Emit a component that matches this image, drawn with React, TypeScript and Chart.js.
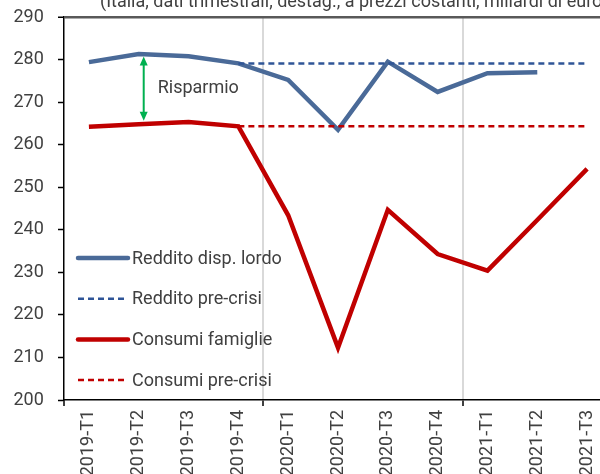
import React, { useEffect, useRef } from 'react';
import { Chart, registerables } from 'chart.js';

Chart.register(...registerables);

const categories = ['2019-T1', '2019-T2', '2019-T3', '2019-T4', '2020-T1', '2020-T2', '2020-T3', '2020-T4', '2021-T1', '2021-T2', '2021-T3'];
const redditoDisp = [279.4, 281.3, 280.8, 279.1, 275.2, 263.5, 279.5, 272.4, 276.8, 277.0, null];
const redditoPreCrisi = [null, null, null, 279.1, 279.1, 279.1, 279.1, 279.1, 279.1, 279.1, 279.1];
const consumiFamiglie = [264.2, 264.8, 265.3, 264.3, 243.4, 212.3, 244.7, 234.3, 230.4, 242.3, 254.3];
const consumiPreCrisi = [null, null, null, 264.3, 264.3, 264.3, 264.3, 264.3, 264.3, 264.3, 264.3];
const yMin = 200;
const yMax = 290;
const yStep = 10;
const yearStartIndexes = [4, 8];
const titleText = '(Italia, dati trimestrali, destag., a prezzi costanti, miliardi di euro)';
const arrowLabel = 'Risparmio';
const arrowAt = { index: 1.1, from: 280.7, to: 265.6, labelIndex: 1.38, labelValue: 273.3 };

const FONT = 'Roboto, "Noto Sans", sans-serif';
const TEXT = '#404040';
const BLUE = '#4A6A98';
const BLUE_DASH = '#2F5597';
const RED = '#C00000';
const GREEN = '#00B050';

const legendItems = [
  { label: 'Reddito disp. lordo', color: BLUE, width: 4.5, dash: [] as number[] },
  { label: 'Reddito pre-crisi', color: BLUE_DASH, width: 2.5, dash: [6, 4] },
  { label: 'Consumi famiglie', color: RED, width: 4.5, dash: [] as number[] },
  { label: 'Consumi pre-crisi', color: RED, width: 2.5, dash: [6, 4] },
];

const overlayPlugin = {
  id: 'overlay',
  afterDatasetsDraw(chart: any) {
    const { ctx, chartArea, scales } = chart;
    const x = scales.x;
    const y = scales.y;
    ctx.save();
    // title (partially cut at the top)
    ctx.font = `18px ${FONT}`;
    ctx.fillStyle = TEXT;
    ctx.textAlign = 'left';
    ctx.textBaseline = 'alphabetic';
    ctx.fillText(titleText, 100, 7);

    // arrow annotation
    const ax = x.getPixelForValue(arrowAt.index);
    const y1 = y.getPixelForValue(arrowAt.from);
    const y2 = y.getPixelForValue(arrowAt.to);
    const head = 8;
    ctx.strokeStyle = GREEN;
    ctx.fillStyle = GREEN;
    ctx.lineWidth = 2;
    ctx.beginPath();
    ctx.moveTo(ax, y1 + head);
    ctx.lineTo(ax, y2 - head);
    ctx.stroke();
    ctx.beginPath();
    ctx.moveTo(ax, y1);
    ctx.lineTo(ax - 4, y1 + head + 1);
    ctx.lineTo(ax + 4, y1 + head + 1);
    ctx.closePath();
    ctx.fill();
    ctx.beginPath();
    ctx.moveTo(ax, y2);
    ctx.lineTo(ax - 4, y2 - head - 1);
    ctx.lineTo(ax + 4, y2 - head - 1);
    ctx.closePath();
    ctx.fill();

    ctx.font = `18px ${FONT}`;
    ctx.fillStyle = TEXT;
    ctx.textBaseline = 'middle';
    ctx.fillText(arrowLabel, x.getPixelForValue(arrowAt.labelIndex), y.getPixelForValue(arrowAt.labelValue));

    // legend inside plot area
    const lx1 = chartArea.left + 14;
    const lx2 = chartArea.left + 64;
    const top = 258;
    const gap = 40.7;
    legendItems.forEach((it, i) => {
      const ly = top + i * gap;
      ctx.strokeStyle = it.color;
      ctx.lineWidth = it.width;
      ctx.setLineDash(it.dash);
      ctx.lineCap = it.dash.length ? 'butt' : 'round';
      ctx.beginPath();
      ctx.moveTo(lx1, ly);
      ctx.lineTo(lx2, ly);
      ctx.stroke();
      ctx.setLineDash([]);
      ctx.fillStyle = TEXT;
      ctx.font = `18px ${FONT}`;
      ctx.textAlign = 'left';
      ctx.textBaseline = 'middle';
      ctx.fillText(it.label, lx2 + 4, ly + 1);
    });
    ctx.restore();
  },
};

export default function App() {
  const ref = useRef<HTMLCanvasElement>(null);
  useEffect(() => {
    if (!ref.current) return;
    const chart = new Chart(ref.current, {
      type: 'line',
      data: {
        labels: categories,
        datasets: [
          { label: 'Reddito pre-crisi', data: redditoPreCrisi, borderColor: BLUE_DASH, borderWidth: 2.5, borderDash: [6, 4], pointRadius: 0 },
          { label: 'Consumi pre-crisi', data: consumiPreCrisi, borderColor: RED, borderWidth: 2.5, borderDash: [6, 4], pointRadius: 0 },
          { label: 'Reddito disp. lordo', data: redditoDisp, borderColor: BLUE, borderWidth: 4.5, pointRadius: 0 },
          { label: 'Consumi famiglie', data: consumiFamiglie, borderColor: RED, borderWidth: 4.5, pointRadius: 0 },
        ],
      },
      options: {
        animation: false,
        responsive: false,
        devicePixelRatio: 1,
        layout: { padding: { top: 17, right: 18, left: 13.5, bottom: 0 } },
        plugins: { legend: { display: false }, tooltip: { enabled: false }, title: { display: false } },
        scales: {
          x: {
            type: 'category',
            offset: true,
            afterFit: (s: any) => { s.height = 74; },
            border: { display: true, color: '#000', width: 1.5 },
            grid: {
              offset: true,
              drawOnChartArea: true,
              tickLength: 6,
              tickWidth: 1.5,
              color: (c: any) => (yearStartIndexes.includes(c.index) ? '#D9D9D9' : 'rgba(0,0,0,0)'),
              tickColor: (c: any) => (c.index === 0 || yearStartIndexes.includes(c.index) ? '#000' : 'rgba(0,0,0,0)'),
              lineWidth: 2,
            },
            ticks: {
              autoSkip: false,
              maxRotation: 90,
              minRotation: 90,
              padding: 4,
              color: TEXT,
              font: { family: FONT, size: 18 },
            },
          },
          y: {
            min: yMin,
            max: yMax,
            afterFit: (s: any) => { s.width = 50.5; },
            border: { display: true, color: '#000', width: 1.5 },
            grid: {
              drawOnChartArea: true,
              tickLength: 6,
              tickWidth: 1.5,
              tickColor: '#000',
              color: (c: any) => (c.tick && c.tick.value === yMax ? '#595959' : 'rgba(0,0,0,0)'),
              lineWidth: (c: any) => (c.tick && c.tick.value === yMax ? 2.5 : 1),
            },
            ticks: {
              stepSize: yStep,
              padding: 3,
              crossAlign: 'far',
              color: TEXT,
              font: { family: FONT, size: 18 },
            },
          },
        },
      },
      plugins: [overlayPlugin],
    });
    return () => chart.destroy();
  }, []);
  return (
    <div style={{ position: 'absolute', left: 0, top: 0, width: 600, height: 474, overflow: 'hidden', background: '#fff' }}>
      <canvas ref={ref} width={630} height={474} style={{ width: 630, height: 474, display: 'block' }} />
    </div>
  );
}
